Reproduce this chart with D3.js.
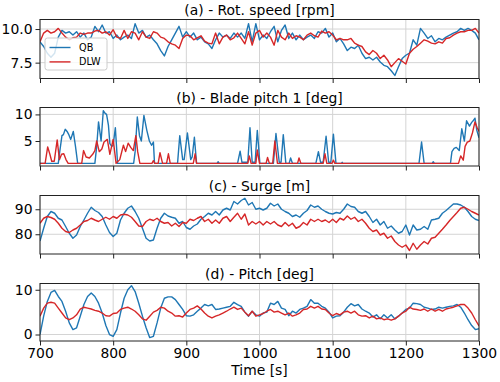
<!DOCTYPE html>
<html>
<head>
<meta charset="utf-8">
<script src="https://cdn.jsdelivr.net/npm/d3@7"></script>
<style>
  body { margin: 0; background: #fff; }
  svg { display: block; font-family: "DejaVu Sans", sans-serif; }
</style>
</head>
<body>
<div class="chart"></div>
<script>
// Time samples (s) for the 5 s series
const time5 = [700, 705, 710, 715, 720, 725, 730, 735, 740, 745, 750, 755, 760, 765, 770, 775, 780, 785, 790, 795,
  800, 805, 810, 815, 820, 825, 830, 835, 840, 845, 850, 855, 860, 865, 870, 875, 880, 885, 890, 895,
  900, 905, 910, 915, 920, 925, 930, 935, 940, 945, 950, 955, 960, 965, 970, 975, 980, 985, 990, 995,
  1000, 1005, 1010, 1015, 1020, 1025, 1030, 1035, 1040, 1045, 1050, 1055, 1060, 1065, 1070, 1075, 1080, 1085, 1090, 1095,
  1100, 1105, 1110, 1115, 1120, 1125, 1130, 1135, 1140, 1145, 1150, 1155, 1160, 1165, 1170, 1175, 1180, 1185, 1190, 1195,
  1200, 1205, 1210, 1215, 1220, 1225, 1230, 1235, 1240, 1245, 1250, 1255, 1260, 1265, 1270, 1275, 1280, 1285, 1290, 1295,
  1300];

// (a) rotor speed [rpm]
const qbRot = [9.05, 8.7, 8.2, 7.9, 8.2, 9.4, 9.9, 9.7, 9.8, 9.55,
  9.8, 9.4, 9.7, 9.2, 9.4, 10.2, 9.8, 10.3, 9.7, 9.8,
  9.3, 9.55, 9.2, 9.4, 9.55, 9.3, 10.4, 9.7, 9.9, 9.4,
  9.55, 9.2, 8.9, 8.4, 8.0, 8.7, 9.2, 9.7, 10.2, 9.4,
  9.8, 9.4, 9.7, 9.2, 9.4, 9.05, 8.9, 8.55, 9.2, 9.7,
  9.4, 9.55, 9.3, 9.7, 9.4, 9.7, 9.3, 10.4, 9.05, 10.4,
  9.2, 9.55, 9.3, 9.8, 10.2, 9.05, 9.9, 10.3, 9.3, 9.7,
  9.2, 9.55, 9.2, 9.4, 9.55, 9.3, 9.8, 9.7, 10.05, 9.4,
  9.7, 9.05, 9.3, 8.9, 8.4, 8.65, 8.55, 8.8, 8.2, 7.8,
  7.9, 7.7, 7.9, 7.55, 7.3, 7.2, 6.9, 6.55, 7.2, 7.8,
  8.05, 8.2, 9.2, 8.8, 10.05, 9.7, 9.3, 9.5, 9.05, 9.3,
  9.2, 9.4, 9.55, 9.7, 9.8, 10.05, 9.9, 10.05, 9.9, 9.7,
  9.2];
const dlwRot = [9.05, 9.7, 9.9, 9.7, 9.8, 10.05, 9.7, 9.4, 9.2, 9.35,
  9.4, 9.7, 9.6, 9.7, 9.7, 9.85, 9.9, 9.7, 9.8, 9.55,
  9.95, 9.4, 9.3, 9.9, 9.3, 9.8, 9.7, 9.2, 9.8, 9.4,
  9.3, 9.8, 9.7, 9.4, 9.3, 9.05, 8.9, 8.8, 8.55, 9.3,
  9.55, 9.5, 9.2, 9.35, 9.5, 9.1, 8.95, 8.9, 9.7, 8.9,
  9.4, 9.55, 9.2, 9.35, 9.7, 9.3, 8.9, 9.8, 8.8, 9.7,
  9.9, 9.4, 9.7, 9.4, 8.8, 9.9, 9.4, 9.2, 9.7, 9.3,
  9.5, 9.4, 9.2, 9.55, 9.7, 9.5, 9.4, 9.85, 9.7, 9.8,
  9.55, 9.2, 9.3, 9.2, 9.2, 9.3, 8.95, 8.8, 8.7, 8.3,
  8.1, 8.4, 8.2, 7.8, 8.05, 7.7, 7.2, 7.5, 7.8, 7.6,
  7.4, 8.2, 8.5, 8.7, 8.95, 9.2, 9.1, 8.95, 8.9, 9.05,
  8.95, 9.3, 9.35, 9.55, 9.7, 9.8, 9.8, 9.9, 9.9, 10.05,
  9.7];

// (b) blade pitch 1 [deg], break points
const qbBladeTime = [700, 725, 727, 730, 732, 734.5, 737, 739, 742, 745.5, 748.5, 751.5, 775, 777.5, 780, 783.5, 786.5, 789, 791, 793.5,
  795.5, 798, 800, 803, 806, 828, 830, 833, 836, 838.5, 842, 846, 849.5, 852.5, 855, 856.5, 888, 891, 895, 897,
  901.5, 906, 908, 911, 914, 942, 943.5, 945, 970, 973.5, 976, 984, 987, 990, 994, 997, 1000.5, 1019, 1022.5, 1027,
  1029.5, 1032.5, 1036, 1040.5, 1042.5, 1045, 1077, 1080.5, 1083.5, 1087, 1091, 1094.5, 1097.5, 1101, 1104.5, 1112, 1113, 1114, 1218, 1221.5,
  1225, 1236, 1237.5, 1239, 1261, 1263, 1266, 1269, 1273, 1276.5, 1280, 1283, 1287, 1290, 1292, 1294.5, 1297, 1300];
const qbBlade = [0.8, 0.8, 3.0, 6.0, 6.2, 7.2, 6.8, 6.3, 5.3, 6.8, 4.0, 0.8, 0.8, 4.0, 8.6, 5.0, 10.7, 10.2, 10.0, 8.0,
  4.5, 4.0, 4.2, 7.5, 0.8, 0.8, 3.0, 9.5, 6.0, 5.0, 9.8, 7.0, 5.0, 4.2, 4.8, 0.8, 0.8, 6.0, 1.5, 1.5,
  6.5, 1.5, 2.0, 5.7, 0.8, 0.8, 1.1, 0.8, 0.8, 3.1, 1.0, 1.0, 7.5, 1.0, 1.0, 7.0, 0.8, 0.8, 6.4, 1.0,
  1.0, 6.2, 0.8, 0.8, 1.8, 0.8, 0.8, 3.0, 1.0, 1.0, 5.9, 1.0, 1.0, 6.3, 0.8, 0.8, 1.0, 0.8, 0.8, 4.8,
  0.8, 0.8, 1.1, 0.8, 0.8, 3.0, 3.6, 3.8, 3.2, 7.3, 5.0, 8.8, 7.8, 8.5, 8.8, 9.3, 7.0, 5.6];
const dlwBladeTime = [700, 707, 710.5, 713.5, 716, 719.5, 723.5, 726.5, 729.5, 732.5, 735.5, 738.5, 757, 759.5, 763, 767.5, 772, 775, 777.5, 781,
  784.5, 787.5, 792, 795.5, 800, 804, 809, 814, 817, 820.5, 824, 827.5, 831, 833.5, 836.5, 853, 855, 857, 861.5, 864,
  867.5, 873, 875.5, 878, 909.5, 912, 914, 984, 986, 988.5, 995, 997, 1000, 1009, 1011, 1013.5, 1018, 1021, 1024.5, 1052,
  1054, 1056.5, 1087, 1089.5, 1092, 1099, 1101, 1103, 1272, 1275, 1278.5, 1281, 1284, 1287.5, 1291, 1294.5, 1297.5, 1300];
const dlwBlade = [0.8, 0.8, 3.9, 2.5, 1.2, 1.2, 5.2, 1.5, 2.5, 2.6, 1.5, 0.8, 0.8, 3.2, 2.0, 1.8, 2.5, 3.2, 5.0, 3.0,
  3.5, 4.8, 5.3, 2.5, 5.3, 0.8, 1.5, 4.2, 3.0, 4.6, 3.8, 3.2, 6.0, 3.0, 0.8, 0.8, 1.3, 0.8, 0.8, 2.8,
  0.8, 0.8, 2.6, 0.8, 0.8, 2.6, 0.8, 0.8, 2.2, 0.8, 0.8, 3.3, 0.8, 0.8, 1.9, 0.8, 0.8, 5.0, 0.8, 0.8,
  1.8, 0.8, 0.8, 2.6, 0.8, 0.8, 1.4, 0.8, 0.8, 2.2, 1.4, 4.0, 4.8, 5.0, 6.5, 8.6, 7.5, 6.8];

// (c) surge [m]
const qbSurge = [77.3, 82.4, 87.1, 89.1, 88.4, 86.4, 85.7, 83.1, 80.4, 78.4,
  79.7, 83.1, 85.7, 88.4, 90.8, 89.5, 88.7, 87.1, 83.7, 80.7,
  79.1, 80.4, 85.7, 88.4, 90.4, 91.3, 89.1, 86.4, 82.4, 78.4,
  77.3, 77.7, 82.4, 86.4, 88.4, 87.3, 86.8, 86.4, 84.4, 85.1,
  82.7, 82.0, 83.3, 84.1, 86.0, 87.1, 88.4, 87.7, 89.1, 87.7,
  89.7, 90.4, 89.7, 93.1, 92.1, 93.5, 94.4, 91.7, 92.7, 90.0,
  90.4, 89.7, 90.4, 92.4, 91.3, 92.1, 90.0, 89.1, 88.4, 87.1,
  87.7, 86.8, 88.4, 89.5, 91.7, 90.8, 91.3, 90.0, 89.1, 88.4,
  88.1, 88.7, 88.4, 90.0, 92.1, 91.1, 90.8, 89.1, 88.4, 89.1,
  87.1, 84.7, 86.0, 83.7, 85.1, 82.4, 83.3, 81.7, 80.4, 81.1,
  83.7, 79.7, 83.7, 81.7, 82.0, 83.1, 82.0, 85.7, 86.0, 86.4,
  88.4, 89.5, 90.8, 92.1, 92.1, 91.7, 90.8, 89.1, 87.1, 86.0,
  85.5];
const dlwSurge = [84.4, 86.4, 87.1, 86.7, 86.0, 84.4, 82.4, 81.1, 80.7, 81.7,
  82.4, 83.7, 85.1, 85.5, 86.4, 85.7, 85.1, 86.0, 86.8, 86.0,
  87.1, 86.4, 87.7, 88.0, 87.7, 86.8, 85.1, 83.3, 83.1, 85.1,
  86.0, 85.5, 86.4, 85.1, 84.4, 84.7, 83.3, 84.4, 83.1, 84.7,
  84.4, 86.0, 85.5, 86.4, 87.1, 85.1, 86.0, 84.4, 85.7, 84.4,
  86.4, 87.1, 85.1, 86.8, 88.4, 86.0, 88.1, 83.7, 85.1, 84.1,
  85.1, 83.7, 85.1, 84.1, 85.1, 83.7, 83.1, 84.7, 83.3, 84.4,
  82.4, 83.1, 84.7, 83.7, 86.0, 85.1, 86.0, 85.1, 85.7, 84.7,
  86.0, 84.7, 86.4, 85.7, 87.3, 86.0, 86.8, 85.1, 86.0, 84.4,
  82.4, 81.1, 81.7, 79.7, 80.4, 78.4, 79.3, 77.1, 75.7, 74.8,
  75.7, 73.5, 76.4, 74.0, 75.7, 77.1, 76.1, 78.4, 78.8, 80.4,
  82.0, 83.7, 85.5, 87.1, 88.7, 90.4, 90.8, 90.0, 89.1, 88.4,
  87.7];

// (d) platform pitch [deg]
const qbPitch = [0, 4.1, 7.4, 9.4, 9.85, 8.5, 7.4, 5.2, 2.6, 1.1,
  1.5, 4.1, 6.7, 8.5, 9.3, 8.5, 7.0, 4.8, 2.0, 0,
  -0.4, 1.1, 4.8, 8.1, 10.0, 10.9, 9.6, 7.0, 4.1, 1.5,
  -0.7, -0.4, 2.6, 5.9, 8.1, 8.4, 8.4, 7.8, 6.7, 5.6,
  4.2, 4.1, 4.4, 5.2, 5.9, 6.7, 6.4, 6.7, 5.6, 5.7,
  5.9, 6.1, 6.3, 7.2, 6.7, 6.3, 5.0, 4.1, 5.2, 4.4,
  4.1, 4.8, 5.0, 7.0, 6.7, 7.4, 5.9, 5.6, 4.2, 5.2,
  4.8, 5.6, 5.9, 6.3, 7.8, 7.0, 7.0, 6.3, 5.9, 5.0,
  3.7, 4.1, 4.2, 5.0, 6.1, 6.9, 6.4, 6.7, 5.7, 5.2,
  4.8, 3.9, 4.4, 3.5, 4.4, 3.7, 4.4, 3.5, 4.1, 4.8,
  5.6, 5.9, 7.0, 6.9, 6.7, 6.1, 5.9, 5.6, 5.7, 6.1,
  5.9, 6.1, 6.3, 6.4, 6.7, 6.1, 4.8, 3.3, 2.0, 1.1,
  1.3];
const dlwPitch = [4.1, 5.9, 7.0, 7.2, 7.0, 5.9, 4.8, 3.7, 3.3, 3.7,
  4.4, 5.7, 6.1, 5.9, 5.7, 5.4, 5.2, 4.8, 4.2, 4.1,
  4.7, 4.8, 5.6, 5.9, 6.1, 5.7, 5.2, 4.4, 3.5, 3.2,
  4.1, 5.0, 5.4, 6.1, 5.9, 5.2, 4.8, 4.1, 4.2, 3.9,
  4.8, 5.6, 5.9, 6.4, 5.7, 4.8, 4.1, 3.7, 4.1, 4.4,
  4.8, 5.2, 5.7, 6.1, 5.6, 5.9, 5.0, 4.2, 5.2, 4.1,
  4.4, 4.7, 5.2, 5.6, 5.0, 5.2, 4.8, 4.4, 4.8, 4.1,
  4.4, 4.8, 5.6, 5.7, 6.3, 5.9, 6.3, 5.7, 5.6, 4.8,
  4.2, 4.7, 4.4, 5.0, 5.2, 4.8, 5.2, 4.4, 4.1, 4.2,
  3.7, 4.1, 3.5, 3.7, 3.3, 3.5, 3.2, 3.5, 4.1, 4.8,
  5.2, 6.1, 5.7, 5.6, 5.4, 5.7, 5.2, 5.7, 5.2, 5.6,
  5.2, 5.7, 5.9, 6.1, 6.4, 6.7, 6.7, 5.9, 4.8, 3.3,
  1.9];

// Akse-ticks og titler
const xTicks = [700, 800, 900, 1000, 1100, 1200, 1300];
const titles = ["(a) - Rot. speed [rpm]", "(b) - Blade pitch 1 [deg]", "(c) - Surge [m]", "(d) - Pitch [deg]"];
const yTicksA = [7.5, 10.0];
const yTicksB = [5, 10];
const yTicksC = [80, 90];
const yTicksD = [0, 10];
const seriesNames = ["QB", "DLW"];
const colors = ["#1f77b4", "#d62728"];

const zip = (t, v) => t.map((d, i) => ({ t: d, v: v[i] }));

// Panel opsætning (position i px, y-domæne)
const panels = [
  { title: titles[0], top: 19.5, bottom: 78.5, domain: [6.32, 10.71], ticks: yTicksA, fmt: d3.format(".1f"),
    lines: [zip(time5, qbRot), zip(time5, dlwRot)] },
  { title: titles[1], top: 107.5, bottom: 166, domain: [0.3, 11.3], ticks: yTicksB, fmt: d3.format("d"),
    lines: [zip(qbBladeTime, qbBlade), zip(dlwBladeTime, dlwBlade)] },
  { title: titles[2], top: 195.5, bottom: 254, domain: [72.1, 95.5], ticks: yTicksC, fmt: d3.format("d"),
    lines: [zip(time5, qbSurge), zip(time5, dlwSurge)] },
  { title: titles[3], top: 283.5, bottom: 341, domain: [-1.45, 11.4], ticks: yTicksD, fmt: d3.format("d"),
    lines: [zip(time5, qbPitch), zip(time5, dlwPitch)] }
];

const width = 500;
const height = 382;
const left = 40;
const right = 479;

const svg = d3
  .select(".chart")
  .append("svg")
  .attr("width", width)
  .attr("height", height);

const xScale = d3.scaleLinear().domain([700, 1300]).range([left, right]);

panels.forEach((p, k) => {
  const yScale = d3.scaleLinear().domain(p.domain).range([p.bottom, p.top]);
  const g = svg.append("g");

  // clip til plotområdet
  const clipId = "clip" + k;
  g.append("clipPath")
    .attr("id", clipId)
    .append("rect")
    .attr("x", left)
    .attr("y", p.top)
    .attr("width", right - left)
    .attr("height", p.bottom - p.top);

  // gitter
  g.selectAll(".vgrid")
    .data(xTicks)
    .enter()
    .append("line")
    .attr("x1", (d) => xScale(d))
    .attr("x2", (d) => xScale(d))
    .attr("y1", p.top)
    .attr("y2", p.bottom)
    .attr("stroke", "#d4d4d4")
    .attr("stroke-width", 1);

  g.selectAll(".hgrid")
    .data(p.ticks)
    .enter()
    .append("line")
    .attr("x1", left)
    .attr("x2", right)
    .attr("y1", (d) => yScale(d))
    .attr("y2", (d) => yScale(d))
    .attr("stroke", "#d4d4d4")
    .attr("stroke-width", 1);

  // linjer
  const line = d3
    .line()
    .x((d) => xScale(d.t))
    .y((d) => yScale(d.v));

  p.lines.forEach((data, i) => {
    g.append("path")
      .datum(data)
      .attr("clip-path", "url(#" + clipId + ")")
      .attr("fill", "none")
      .attr("stroke", colors[i])
      .attr("stroke-width", 1.4)
      .attr("stroke-linejoin", "round")
      .attr("d", line);
  });

  // ramme
  g.append("rect")
    .attr("x", left)
    .attr("y", p.top)
    .attr("width", right - left)
    .attr("height", p.bottom - p.top)
    .attr("fill", "none")
    .attr("stroke", "#222")
    .attr("stroke-width", 1);

  // akser
  const xAxis = d3.axisBottom(xScale).tickValues(xTicks).tickFormat(d3.format("d")).tickSize(4.5).tickPadding(3);
  if (k < 3) xAxis.tickFormat("");
  const xg = g.append("g")
    .attr("transform", "translate(0," + p.bottom + ")")
    .call(xAxis);
  const yg = g.append("g")
    .attr("transform", "translate(" + left + ",0)")
    .call(d3.axisLeft(yScale).tickValues(p.ticks).tickFormat(p.fmt).tickSize(4.5).tickPadding(3));

  [xg, yg].forEach((a) => {
    a.select(".domain").remove();
    a.selectAll(".tick line").attr("stroke", "#222");
    a.selectAll(".tick text")
      .attr("fill", "#000")
      .style("font-size", "13.9px")
      .style("font-family", "DejaVu Sans, sans-serif");
  });

  // titel
  g.append("text")
    .attr("x", (left + right) / 2)
    .attr("y", p.top - 4.8)
    .attr("text-anchor", "middle")
    .style("font-size", "13.9px")
    .text(p.title);
});

// x label
svg.append("text")
  .attr("x", (left + right) / 2)
  .attr("y", 375)
  .attr("text-anchor", "middle")
  .style("font-size", "13.9px")
  .text("Time [s]");

// Legend i panel (a)
const legend = svg.append("g").attr("transform", "translate(45,38)");
legend.append("rect")
  .attr("width", 62)
  .attr("height", 32)
  .attr("rx", 2.5)
  .attr("fill", "white")
  .attr("fill-opacity", 0.8)
  .attr("stroke", "#cccccc")
  .attr("stroke-width", 1);

seriesNames.forEach((name, i) => {
  legend.append("line")
    .attr("x1", 4.5)
    .attr("x2", 25.5)
    .attr("y1", 9.5 + i * 14.4)
    .attr("y2", 9.5 + i * 14.4)
    .attr("stroke", colors[i])
    .attr("stroke-width", 1.4);
  legend.append("text")
    .attr("x", 34)
    .attr("y", 9.5 + i * 14.4)
    .attr("dy", "0.35em")
    .style("font-size", "9.7px")
    .text(name);
});
</script>
</body>
</html>
